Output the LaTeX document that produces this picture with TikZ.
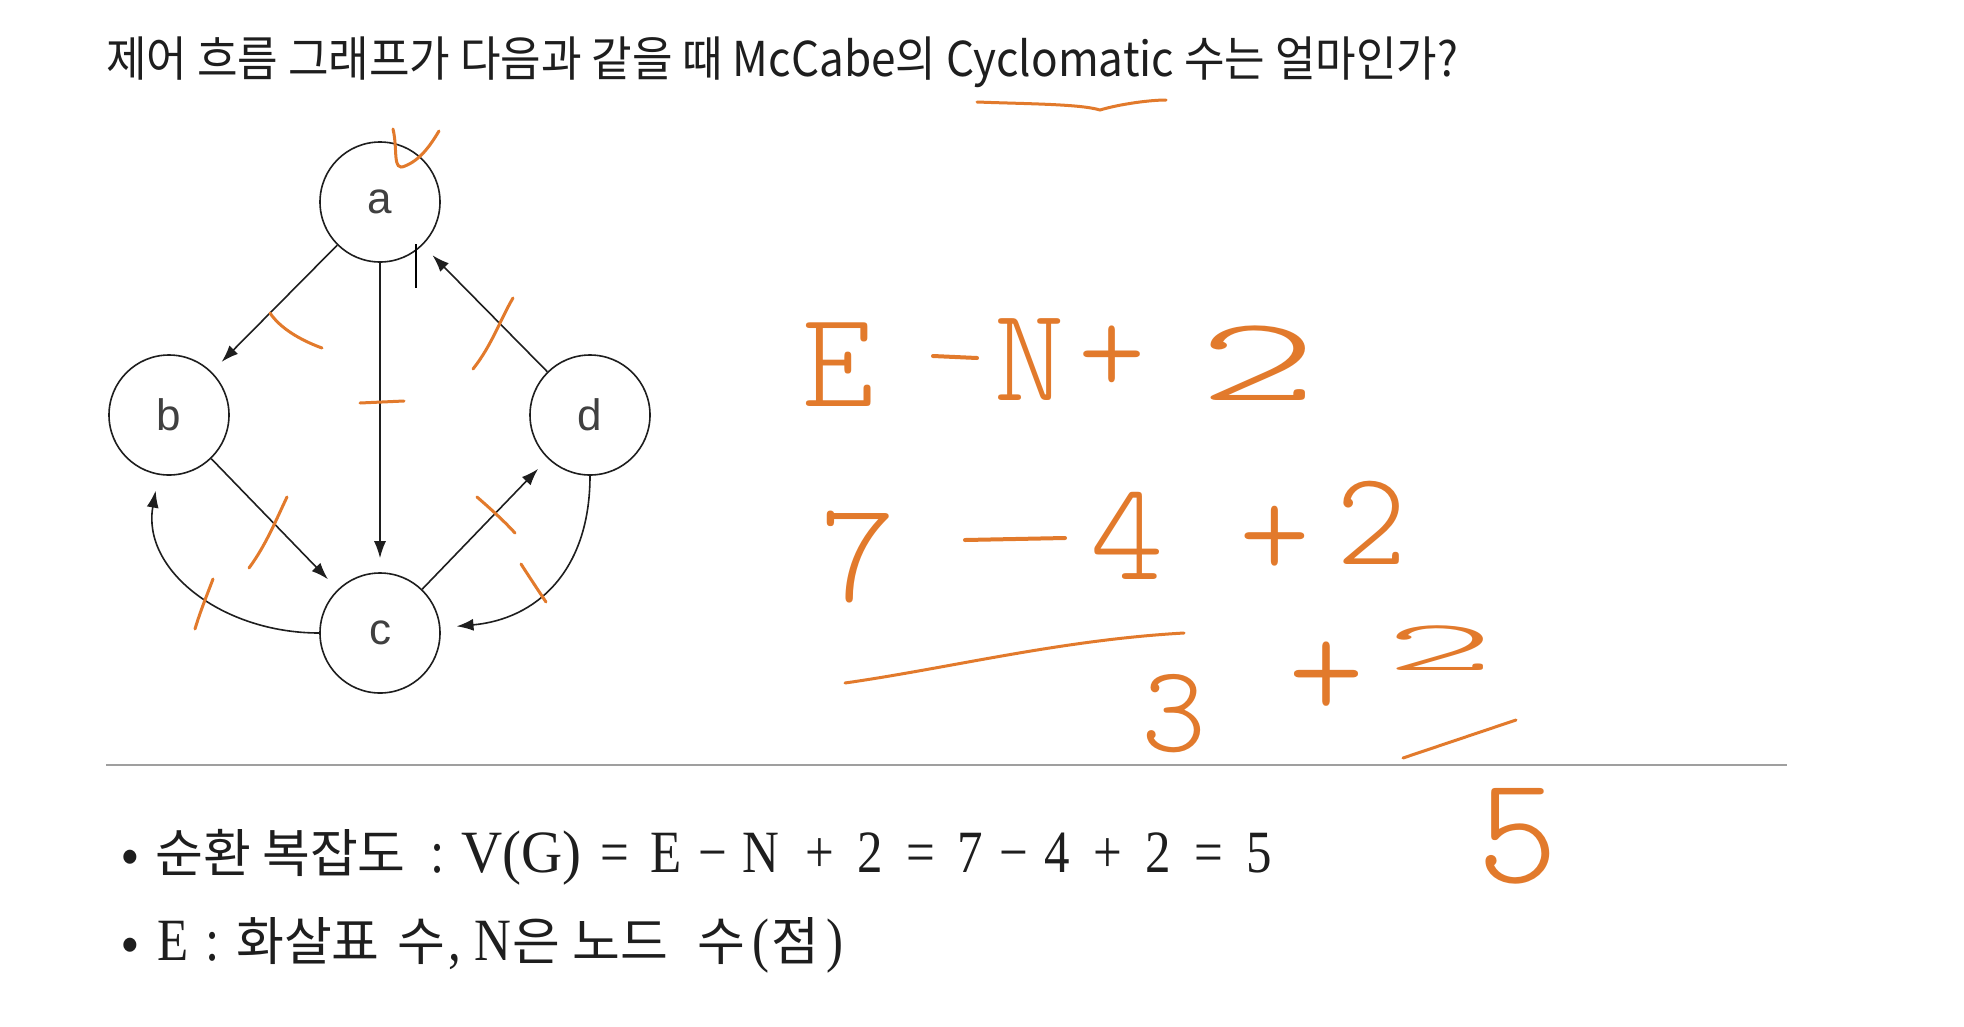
\documentclass[tikz,border=0pt]{standalone}
\usepackage{fontspec}
\setmainfont{Liberation Sans}
\newfontfamily\kr{Noto Sans CJK KR}
\newfontfamily\ser{Liberation Serif}
\usetikzlibrary{arrows.meta}
\definecolor{hand}{RGB}{226,122,44}
\definecolor{ink}{RGB}{30,30,30}
\newcommand\handfont[1]{\fontfamily{lmtt}\fontseries{l}\fontsize{#1}{#1}\selectfont}
\newcommand\bk[1]{{\kr\fontsize{52}{52}\selectfont #1}}
\newcommand\bs[1]{{\ser\fontsize{60}{60}\selectfont\scalebox{0.85}[1]{#1}}}
\begin{document}
\begin{tikzpicture}[x=1pt,y=-1pt,
  vtx/.style={circle,draw=ink,line width=1.6pt,minimum size=120pt,inner sep=0pt,
    text=ink!85,font=\fontsize{44}{44}\selectfont},
  edge/.style={draw=ink,line width=1.6pt,-{Latex[length=17pt,width=12pt]},shorten >=14pt},
  tick/.style={draw=hand,line width=3pt,line cap=round},
  txt/.style={anchor=base west,inner sep=0pt,text=ink},
  hw/.style={text=hand,inner sep=0pt,anchor=center}]
\fill[white] (0,0) rectangle (1964,1026);
\useasboundingbox (0,0) rectangle (1964,1026);

% title
\node[anchor=west,inner sep=0pt,text=ink,font=\kr\fontsize{48}{48}\selectfont] (title) at (106,62)
  {\scalebox{0.918}[1]{제어 흐름 그래프가 다음과 같을 때 McCabe의 Cyclomatic 수는 얼마인가?}};

% graph
\node[vtx] (a) at (380,202) {a};
\node[vtx] (b) at (169,415) {b};
\node[vtx] (d) at (590,415) {d};
\node[vtx] (c) at (380,633) {c};

\draw[edge] (a) -- (b);
\draw[edge] (a) -- (c);
\draw[edge] (d) -- (a);
\draw[edge] (b) -- (c);
\draw[edge] (c) -- (d);
\draw[edge,shorten >=16pt] (c.west) to[out=180,in=-100,looseness=1.1] (b);
\draw[edge,shorten >=16pt] (d.south) to[out=-90,in=5,looseness=1.15] (c);

% cursor
\draw[black,line width=2pt] (416,244) -- (416,288);

% rule
\draw[gray!75,line width=1.6pt] (106,765) -- (1787,765);

% bottom line 1
\node[txt] (b1) at (121,872) {\bk{•}};
\node[txt] (b2) at (155,872) {\bk{순환}};
\node[txt] (b3) at (262,872) {\bk{복잡도}};
\node[txt] (b4) at (430,872) {\bs{:}};
\node[txt] (b5) at (461,872) {{\ser\fontsize{60}{60}\selectfont\scalebox{0.95}[1]{V(G)}}};
\node[txt] (b6) at (600,872) {\bs{=}};
\node[txt] (b7) at (650,872) {\bs{E}};
\node[txt] (b8) at (698,872) {\bs{−}};
\node[txt] (b9) at (742,872) {\bs{N}};
\node[txt] (b10) at (805,872) {\bs{+}};
\node[txt] (b11) at (857,872) {\bs{2}};
\node[txt] (b12) at (906,872) {\bs{=}};
\node[txt] (b13) at (957,872) {\bs{7}};
\node[txt] (b14) at (999,872) {\bs{−}};
\node[txt] (b15) at (1044,872) {\bs{4}};
\node[txt] (b16) at (1093,872) {\bs{+}};
\node[txt] (b17) at (1145,872) {\bs{2}};
\node[txt] (b18) at (1194,872) {\bs{=}};
\node[txt] (b19) at (1246,872) {\bs{5}};

% bottom line 2
\node[txt] (c1) at (121,960) {\bk{•}};
\node[txt] (c2) at (157,960) {\bs{E}};
\node[txt] (c3) at (205,960) {\bs{:}};
\node[txt] (c4) at (236,960) {\bk{화살표}};
\node[txt] (c5) at (397,960) {\bk{수}};
\node[txt] (c6) at (448,960) {\bs{,}};
\node[txt] (c7) at (474,960) {\bs{N}};
\node[txt] (c8) at (512,960) {\bk{은}};
\node[txt] (c9) at (572,960) {\bk{노드}};
\node[txt] (c10) at (697,960) {\bk{수}};
\node[txt] (c11) at (752,960) {\bs{(}};
\node[txt] (c12) at (771,960) {\bk{점}};
\node[txt] (c13) at (826,960) {\bs{)}};

% handwritten annotations
\draw[tick] (393,129) .. controls (398,150) and (392,172) .. (405,166) .. controls (420,160) and (430,146) .. (439,131);
\draw[tick] (977,102) .. controls (1030,104) and (1080,104) .. (1100,110) .. controls (1120,104) and (1150,100) .. (1166,100);
% edge ticks
\draw[tick] (270,313) .. controls (280,328) and (300,340) .. (322,348);
\draw[tick] (360,403) -- (404,401);
\draw[tick] (513,298) .. controls (500,320) and (492,345) .. (473,369);
\draw[tick] (287,497) .. controls (276,520) and (266,545) .. (249,568);
\draw[tick] (213,579) .. controls (207,595) and (200,612) .. (195,629);
\draw[tick] (477,497) .. controls (492,510) and (505,522) .. (515,533);
\draw[tick] (521,564) .. controls (530,578) and (538,590) .. (546,602);

% E - N + 2
\node[hw,font=\handfont{137}] (h1) at (838,365) {E};
\node[hw] (h2) at (955,357) {\tikz\draw[hand,line width=4pt,line cap=round] (0,0) -- (44,2);};
\node[hw,font=\handfont{134}] (h3) at (1030,360) {N};
\node[hw,font=\handfont{128}] (h4) at (1112,360) {+};
\node[hw,font=\handfont{120}] (h5) at (1258,363) {\scalebox{1.9}[1]{2}};
% 7 - 4 + 2
\node[hw,font=\handfont{144}] (h6) at (858,557) {7};
\node[hw] (h7) at (1015,539) {\tikz\draw[hand,line width=4pt,line cap=round] (0,2) -- (100,0);};
\node[hw,font=\handfont{140}] (h8) at (1127,536) {4};
\node[hw,font=\handfont{135}] (h9) at (1275,542) {+};
\node[hw,font=\handfont{134}] (h10) at (1372,523) {2};
% working
\draw[tick] (845,683) .. controls (950,668) and (1060,640) .. (1184,633);
\node[hw,font=\handfont{124}] (h11) at (1174,714) {3};
\node[hw,font=\handfont{145}] (h12) at (1327,680) {+};
\node[hw,font=\handfont{72}] (h13) at (1440,648) {\scalebox{2.9}[1]{2}};
\draw[tick] (1403,758) -- (1516,720);
\node[hw,font=\handfont{154}] (h14) at (1518,836) {5};
\end{tikzpicture}
\end{document}
